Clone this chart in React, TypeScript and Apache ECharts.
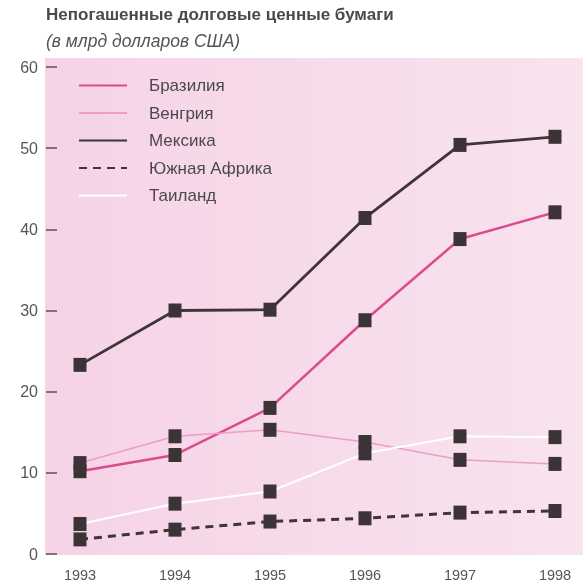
import React, { useEffect, useRef } from "react";
import * as echarts from "echarts";

const titleText = "Непогашенные долговые ценные бумаги";
const subtitleText = "(в млрд долларов США)";
const years = [1993, 1994, 1995, 1996, 1997, 1998];
const seriesNames = ["Бразилия", "Венгрия", "Мексика", "Южная Африка", "Таиланд"];
const brazil = [10.2, 12.2, 18.0, 28.8, 38.8, 42.1];
const hungary = [11.2, 14.5, 15.3, 13.8, 11.6, 11.1];
const mexico = [23.3, 30.0, 30.1, 41.4, 50.4, 51.4];
const southAfrica = [1.8, 3.0, 4.0, 4.4, 5.1, 5.3];
const thailand = [3.7, 6.2, 7.7, 12.4, 14.5, 14.4];
const yTicks = [0, 10, 20, 30, 40, 50, 60];

const FONT = "'Liberation Sans', Arial, sans-serif";

export default function App() {
  const ref = useRef<HTMLDivElement>(null);
  useEffect(() => {
    if (!ref.current) return;
    const chart = echarts.init(ref.current, null, { renderer: "svg" });
    const values = [brazil, hungary, mexico, southAfrica, thailand];
    const lineStyles = [
      { color: "#de4a90", width: 2.5, type: "solid" },
      { color: "#ec9dca", width: 1.5, type: "solid" },
      { color: "#3d3537", width: 2.8, type: "solid" },
      { color: "#3d3537", width: 3, type: [8, 6] },
      { color: "#ffffff", width: 2, type: "solid" },
    ];
    const toPairs = (arr: number[]) => years.map((y, i) => [y, arr[i]]);
    const lineSeries = seriesNames.map((name, i) => ({
      name,
      type: "line",
      data: toPairs(values[i]),
      symbol: "none",
      showSymbol: false,
      lineStyle: lineStyles[i],
      itemStyle: { color: lineStyles[i].color },
      z: 2,
    }));
    const markerSeries = seriesNames.map((name, i) => ({
      name: name + "_m",
      type: "scatter",
      data: toPairs(values[i]),
      symbol: "rect",
      symbolSize: [13, 14],
      itemStyle: { color: "#3b3335", opacity: 1 },
      z: 5,
    }));
    chart.setOption({
      animation: false,
      textStyle: { fontFamily: FONT },
      graphic: [
        {
          type: "rect",
          z: -10,
          shape: { x: 45, y: 58, width: 538, height: 497 },
          style: {
            fill: new echarts.graphic.LinearGradient(0, 0, 1, 0, [
              { offset: 0, color: "#f6d3e7" },
              { offset: 1, color: "#f8e3ee" },
            ]),
          },
        },
        {
          type: "text",
          x: 46,
          y: 14,
          style: {
            text: titleText,
            font: `bold 17px ${FONT}`,
            fill: "#4a4a4a",
            verticalAlign: "middle",
          },
        },
        {
          type: "text",
          x: 46,
          y: 41,
          style: {
            text: subtitleText,
            font: `italic 17.5px ${FONT}`,
            fill: "#555555",
            verticalAlign: "middle",
          },
        },
      ],
      legend: {
        data: seriesNames,
        orient: "vertical",
        left: 78,
        top: 77,
        padding: 0,
        itemWidth: 48,
        itemHeight: 14,
        itemGap: 10.5,
        itemStyle: { opacity: 0 },
        textStyle: {
          fontFamily: FONT,
          fontSize: 17,
          color: "#4a4a4a",
          padding: [0, 0, 0, 17],
        },
      },
      grid: { left: 80, right: 31, top: 67, bottom: 29 },
      xAxis: {
        type: "value",
        min: 1993,
        max: 1998,
        interval: 1,
        axisLine: { show: false },
        axisTick: { show: false },
        splitLine: { show: false },
        axisLabel: {
          margin: 13,
          fontSize: 14.5,
          color: "#555555",
          fontFamily: FONT,
          formatter: (v: number) => String(v),
        },
      },
      yAxis: {
        type: "value",
        min: yTicks[0],
        max: yTicks[yTicks.length - 1],
        interval: 10,
        offset: 34,
        axisLine: { show: false },
        axisTick: {
          show: true,
          inside: true,
          length: 11,
          lineStyle: { color: "#555555", width: 1.5 },
        },
        splitLine: { show: false },
        axisLabel: {
          margin: 8,
          fontSize: 16,
          color: "#555555",
          fontFamily: FONT,
        },
      },
      series: [...lineSeries, ...markerSeries],
    });
    return () => chart.dispose();
  }, []);
  return (
    <div
      ref={ref}
      style={{ position: "fixed", left: 0, top: 0, width: 586, height: 583 }}
    />
  );
}
